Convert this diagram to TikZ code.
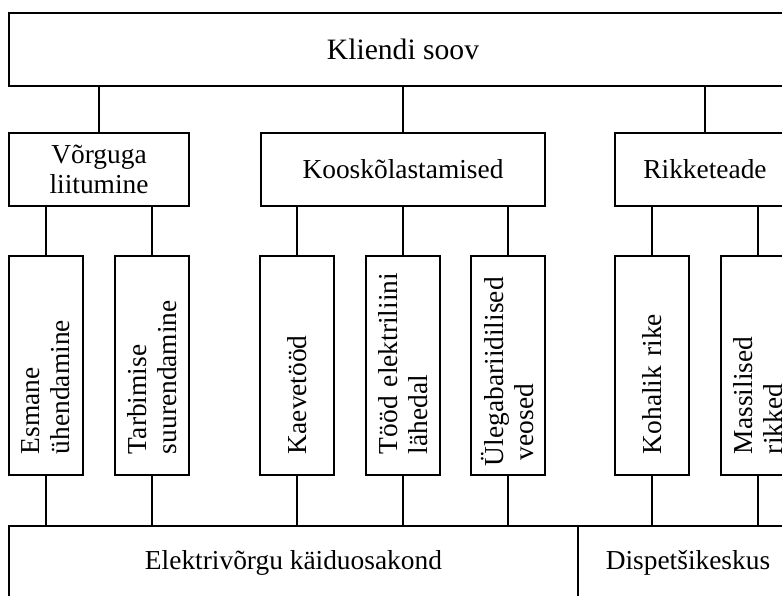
\documentclass[tikz,border=0pt]{standalone}
\usepackage{fontspec}
\setmainfont{Liberation Serif}

\begin{document}
\begin{tikzpicture}[x=1pt,y=1pt,
      every node/.style={font=\fontsize{13.7}{15}\selectfont},
      box/.style={draw,line width=0.9pt,align=center,inner sep=0pt,minimum height=36.5pt},
      vbox/.style={draw,line width=0.9pt,rotate=90,align=left,text width=88.5pt,
        inner xsep=10.5pt,inner ysep=0pt,minimum height=37pt},
      link/.style={line width=0.9pt}]
    \useasboundingbox (0,0) rectangle (391,-297.5);
    \clip (0,0) rectangle (391,-297.5);
    % top level
    \node[box,minimum width=394pt,font=\fontsize{14.8}{16}\selectfont] (soov) at (201.5,-24.75) {Kliendi soov};
    % second level
    \node[box,minimum width=90pt] (vorguga) at (49.5,-84.75) {Võrguga\\liitumine};
    \node[box,minimum width=142pt] (koosk) at (201.5,-84.75) {Kooskõlastamised};
    \node[box,minimum width=90pt] (rike) at (352.5,-84.75) {Rikketeade};
    % third level (rotated: east = top, west = bottom)
    \node[vbox] (esmane) at (23,-182.75) {Esmane\\ühendamine};
    \node[vbox] (tarbimine) at (76,-182.75) {Tarbimise\\suurendamine};
    \node[vbox] (kaeve) at (148.5,-182.75) {Kaevetööd};
    \node[vbox] (lahedal) at (201.5,-182.75) {\mbox{Tööd elektriliini}\\lähedal};
    \node[vbox] (veosed) at (254,-182.75) {\hspace*{-6pt}\mbox{Ülegabariidilised}\\\hspace*{-3pt}veosed};
    \node[vbox] (kohalik) at (326,-182.75) {Kohalik rike};
    \node[vbox] (massilised) at (379,-182.75) {Massilised\\rikked};
    % bottom level
    \node[box,minimum width=284.5pt,minimum height=37pt] (kaidu) at (146.75,-281.5) {Elektrivõrgu käiduosakond};
    \node[box,minimum width=110pt,minimum height=37pt] (dispetser) at (344,-281.5) {Dispetšikeskus};
    % connectors
    \draw[link] (vorguga.north)--(vorguga.north |- soov.south);
    \draw[link] (koosk.north)--(koosk.north |- soov.south);
    \draw[link] (rike.north)--(rike.north |- soov.south);
    \draw[link] (esmane.east)--(esmane.east |- vorguga.south);
    \draw[link] (tarbimine.east)--(tarbimine.east |- vorguga.south);
    \draw[link] (kaeve.east)--(kaeve.east |- koosk.south);
    \draw[link] (lahedal.east)--(lahedal.east |- koosk.south);
    \draw[link] (veosed.east)--(veosed.east |- koosk.south);
    \draw[link] (kohalik.east)--(kohalik.east |- rike.south);
    \draw[link] (massilised.east)--(massilised.east |- rike.south);
    \draw[link] (esmane.west)--(esmane.west |- kaidu.north);
    \draw[link] (tarbimine.west)--(tarbimine.west |- kaidu.north);
    \draw[link] (kaeve.west)--(kaeve.west |- kaidu.north);
    \draw[link] (lahedal.west)--(lahedal.west |- kaidu.north);
    \draw[link] (veosed.west)--(veosed.west |- kaidu.north);
    \draw[link] (kohalik.west)--(kohalik.west |- dispetser.north);
    \draw[link] (massilised.west)--(massilised.west |- dispetser.north);
  \end{tikzpicture}
\end{document}
